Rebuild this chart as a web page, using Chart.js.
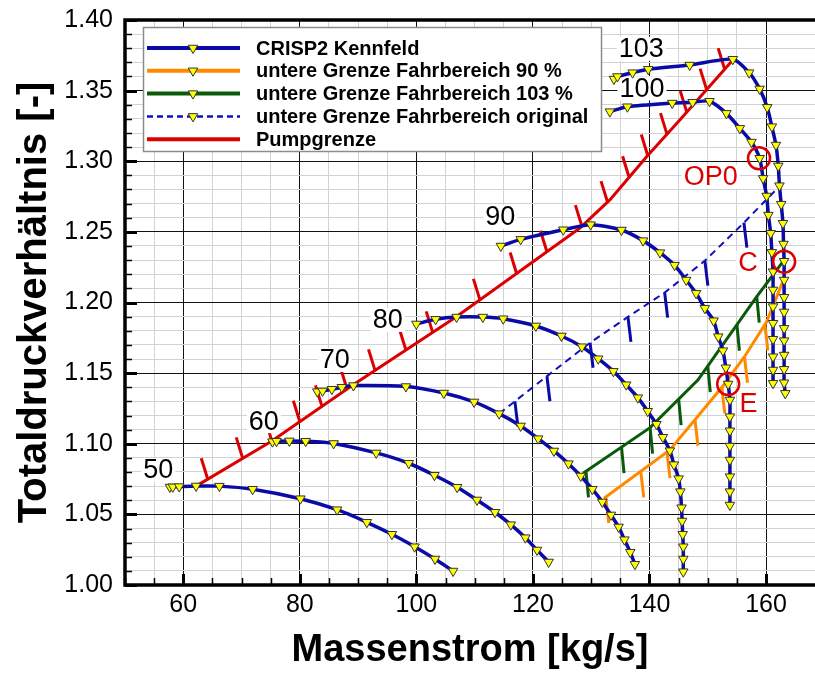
<!DOCTYPE html>
<html>
<head>
<meta charset="utf-8">
<title>Kennfeld</title>
<script src="https://cdn.jsdelivr.net/npm/chart.js@4/dist/chart.umd.min.js"></script>
<style>
	html, body { margin: 0; padding: 0; background: #fff; }
	canvas { display: block; }
</style>
</head>
<body>
<canvas id="map" width="815" height="673"></canvas>
<script>
// Speed lines of the compressor map: [mass flow, total pressure ratio]
const speed50 = [[57.7,1.0694],[58.2,1.0695],[59.3,1.0697],[62.2,1.0701],[66.2,1.0700],[71.9,1.0678],[80.1,1.0611],[86.4,1.0533],[91.5,1.0444],[95.8,1.0359],[99.7,1.0271],[103.2,1.0184],[106.3,1.0099]];
const speed60 = [[75.3,1.1015],[76.0,1.1018],[78.2,1.1020],[81.0,1.1018],[85.8,1.1002],[93.1,1.0935],[98.7,1.0862],[103.1,1.0777],[107.0,1.0692],[110.4,1.0602],[113.5,1.0515],[116.2,1.0427],[118.7,1.0335],[120.7,1.0248],[122.7,1.0163]];
const speed70 = [[83.0,1.1369],[83.9,1.1374],[85.5,1.1386],[87.2,1.1400],[89.2,1.1412],[98.2,1.1405],[104.7,1.1359],[109.9,1.1296],[114.2,1.1213],[117.9,1.1126],[120.9,1.1036],[123.6,1.0949],[126.1,1.0859],[128.2,1.0772],[130.2,1.0678],[131.9,1.0588],[133.4,1.0496],[134.7,1.0411],[135.7,1.0321],[136.7,1.0232],[137.5,1.0147]];
const speed80 = [[100.0,1.1848],[103.3,1.1881],[106.9,1.1897],[111.4,1.1897],[114.9,1.1885],[120.5,1.1834],[124.9,1.1763],[128.4,1.1687],[131.2,1.1602],[133.8,1.1513],[136.0,1.1418],[138.0,1.1326],[139.7,1.1230],[141.2,1.1138],[142.3,1.1046],[143.5,1.0951],[144.2,1.0852],[145.0,1.0753],[145.3,1.0661],[145.5,1.0547],[145.6,1.0453],[145.7,1.0359],[145.8,1.0271],[145.8,1.0184],[145.8,1.0094]];
const speed90 = [[114.5,1.2400],[117.9,1.2447],[125.2,1.2515],[129.9,1.2551],[135.2,1.2513],[138.9,1.2438],[141.8,1.2353],[144.3,1.2264],[146.3,1.2159],[148.0,1.2065],[149.5,1.1959],[151.0,1.1871],[151.8,1.1758],[152.6,1.1659],[153.1,1.1538],[153.5,1.1423],[153.8,1.1310],[153.8,1.1192],[153.8,1.1092],[153.8,1.0984],[153.8,1.0885],[153.8,1.0767],[153.8,1.0661],[153.8,1.0566]];
const speed100 = [[133.2,1.3351],[136.2,1.3386],[143.9,1.3412],[147.4,1.3418],[150.3,1.3425],[153.2,1.3339],[155.5,1.3233],[157.5,1.3136],[158.9,1.3021],[159.5,1.2879],[160.1,1.2754],[160.4,1.2619],[160.8,1.2490],[161.0,1.2355],[161.2,1.2218],[161.2,1.2089],[161.2,1.1971],[161.2,1.1853],[161.2,1.1740],[161.2,1.1616],[161.2,1.1522],[161.2,1.1428]];
const speed103 = [[133.9,1.3582],[134.5,1.3600],[137.1,1.3627],[139.8,1.3651],[146.9,1.3681],[154.3,1.3722],[157.1,1.3627],[158.9,1.3512],[160.2,1.3382],[161.0,1.3245],[161.7,1.3115],[162.1,1.2967],[162.3,1.2827],[162.6,1.2696],[162.9,1.2561],[163.0,1.2414],[163.1,1.2292],[163.1,1.2159],[163.1,1.2037],[163.1,1.1933],[163.1,1.1817],[163.1,1.1730],[163.1,1.1628],[163.1,1.1527],[163.1,1.1432],[163.3,1.1357]];

// Operating limits
const surgeLine = [[62.2,1.0700],[75.2,1.1019],[89.1,1.1416],[106.8,1.1897],[121.2,1.2324],[128.0,1.2525],[133.2,1.2726],[139.5,1.3032],[145.2,1.3292],[154.6,1.3731]];
const limit90 = [[132.2,1.0614],[143.5,1.0956],[152.6,1.1409],[156.3,1.1616],[160.1,1.1864],[163.1,1.2171]];
const limit103 = [[128.6,1.0791],[140.1,1.1114],[148.3,1.1451],[158.4,1.2041],[162.9,1.2289]];
const limitOriginal = [[114.2,1.1213],[122.3,1.1475],[129.8,1.1715],[136.3,1.1898],[142.6,1.2070],[149.5,1.2296],[156.1,1.2561],[162.4,1.2827]];

// Hatch positions (mass flow) along each limit line
const surgeHatch = [64.2,70.2,75.2,80.0,83.8,88.1,92.9,98.2,102.8,110.9,117.2,122.4,128.4,132.8,136.5,139.7,143.0,146.4,149.8,152.9];
const limit90Hatch = [132.5,138.5,143.0,147.8,152.4,156.3,159.8];
const limit103Hatch = [129.1,135.2,140.1,145.0,150.0,155.0,158.4];
const originalHatch = [116.9,122.4,129.8,136.3,142.6,149.5,156.2];

// Speed labels
const speedNames = ['50','60','70','80','90','100','103'];
const speedNameMass = [55.7,73.8,86.0,95.1,114.4,138.7,138.6];
const speedNameRatio = [1.0814,1.1160,1.1593,1.1876,1.2607,1.3516,1.3796];

// Marked operating points
const pointNames = ['OP0','C','E'];
const pointMass = [158.8,163.1,153.5];
const pointRatio = [1.3021,1.2289,1.1423];
const pointNameMass = [150.5,156.9,157.0];
const pointNameRatio = [1.2891,1.2280,1.1286];

const seriesNames = ['CRISP2 Kennfeld','untere Grenze Fahrbereich 90 %','untere Grenze Fahrbereich 103 %','untere Grenze Fahrbereich original','Pumpgrenze'];

const BLUE = '#0a0aa8', ORANGE = '#ff8a00', GREEN = '#0a5a0a', RED = '#dc0000', DASHBLUE = '#1010c0';
const FONT = '"Liberation Sans", Arial, Helvetica, sans-serif';

const toPts = arr => arr.map(([x, y]) => ({x, y}));
const isMajorY = v => Math.round(v * 100) % 5 === 0;
const isMajorX = v => Math.abs(v - Math.round(v)) < 1e-6 && Math.round(v) % 20 === 0;

function speedSet(arr){
	return {
		data: toPts(arr),
		showLine: true,
		borderColor: BLUE,
		borderWidth: 3.5,
		tension: 0.25,
		pointStyle: 'triangle',
		pointRotation: 180,
		pointRadius: 5.5,
		pointBackgroundColor: '#ffff00',
		pointBorderColor: '#333',
		pointBorderWidth: 1,
	};
}

function limitSet(arr, colour, width, hatchAt, dx, dy, dash){
	return {
		data: toPts(arr),
		showLine: true,
		borderColor: colour,
		borderWidth: width,
		borderDash: dash || [],
		tension: 0,
		pointRadius: 0,
		hatch: {at: hatchAt, dx: dx, dy: dy, colour: dash ? BLUE : colour},
	};
}

// Short tick marks on the limit lines, pointing to the forbidden side
const hatchPlugin = {
	id: 'hatches',
	beforeDatasetsDraw(chart){
		const ctx = chart.ctx;
		const xs = chart.scales.x;
		chart.data.datasets.forEach((ds, i) => {
			if (!ds.hatch) return;
			const pts = chart.getDatasetMeta(i).data;
			ctx.save();
			ctx.strokeStyle = ds.hatch.colour;
			ctx.lineWidth = 3;
			ds.hatch.at.forEach(v => {
				const px = xs.getPixelForValue(v);
				for (let k = 0; k < pts.length - 1; k++){
					const a = pts[k], b = pts[k + 1];
					if (px >= a.x && px <= b.x){
						const py = a.y + (b.y - a.y) * (px - a.x) / (b.x - a.x);
						ctx.beginPath();
						ctx.moveTo(px, py);
						ctx.lineTo(px + ds.hatch.dx, py + ds.hatch.dy);
						ctx.stroke();
						break;
					}
				}
			});
			ctx.restore();
		});
	}
};

// Text labels with a white box behind them
const tagPlugin = {
	id: 'tags',
	beforeDatasetsDraw(chart){
		const {ctx, scales: {x, y}} = chart;
		const tags = speedNames.map((t, i) => ({t, x: speedNameMass[i], y: speedNameRatio[i], c: '#000'}))
			.concat(pointNames.map((t, i) => ({t, x: pointNameMass[i], y: pointNameRatio[i], c: RED})));
		ctx.save();
		ctx.font = '27px ' + FONT;
		ctx.textAlign = 'center';
		ctx.textBaseline = 'middle';
		tags.forEach(tag => {
			const px = x.getPixelForValue(tag.x), py = y.getPixelForValue(tag.y);
			const w = ctx.measureText(tag.t).width;
			ctx.fillStyle = '#fff';
			ctx.fillRect(px - w / 2 - 2, py - 12, w + 4, 24);
			ctx.fillStyle = tag.c;
			ctx.fillText(tag.t, px, py + 1);
		});
		ctx.restore();
	}
};

const legendPlugin = {
	id: 'mapLegend',
	afterDatasetsDraw(chart){
		const ctx = chart.ctx;
		const styles = [
			{c: BLUE, dash: [], mark: true},
			{c: ORANGE, dash: [], mark: true},
			{c: GREEN, dash: [], mark: true},
			{c: DASHBLUE, dash: [6, 4], mark: true, w: 2.5},
			{c: RED, dash: [], mark: false},
		];
		ctx.save();
		ctx.fillStyle = '#fff';
		ctx.fillRect(143, 27, 459, 125);
		ctx.strokeStyle = '#8c8c8c';
		ctx.lineWidth = 1.5;
		ctx.strokeRect(143.5, 27.5, 458, 124);
		ctx.font = 'bold 20px ' + FONT;
		ctx.textBaseline = 'middle';
		seriesNames.forEach((name, i) => {
			const s = styles[i];
			const yy = 48 + i * 22.8;
			ctx.strokeStyle = s.c;
			ctx.lineWidth = s.w || 4;
			ctx.setLineDash(s.dash);
			ctx.beginPath();
			ctx.moveTo(147, yy);
			ctx.lineTo(240, yy);
			ctx.stroke();
			ctx.setLineDash([]);
			if (s.mark){
				ctx.fillStyle = '#ffff00';
				ctx.strokeStyle = '#333';
				ctx.lineWidth = 1;
				Chart.helpers.drawPoint(ctx, {pointStyle: 'triangle', rotation: 180, radius: 5.5, borderWidth: 1}, 193, yy);
			}
			ctx.fillStyle = '#000';
			ctx.fillText(name, 256, yy + 1);
		});
		ctx.restore();
	}
};

// Heavy frame with inward tick marks
const framePlugin = {
	id: 'frame',
	afterDraw(chart){
		const {ctx, chartArea: {left, right, top, bottom}, scales: {x, y}} = chart;
		ctx.save();
		ctx.strokeStyle = '#000';
		y.ticks.forEach(t => {
			const py = Math.round(y.getPixelForValue(t.value)) + 0.5;
			const major = isMajorY(t.value);
			ctx.lineWidth = major ? 3 : 1.5;
			ctx.beginPath();
			ctx.moveTo(left, py);
			ctx.lineTo(left + (major ? 12 : 7), py);
			ctx.stroke();
		});
		x.ticks.forEach(t => {
			if (t.value > 167) return;
			const px = Math.round(x.getPixelForValue(t.value)) + 0.5;
			const major = isMajorX(t.value);
			ctx.lineWidth = major ? 3 : 1.5;
			ctx.beginPath();
			ctx.moveTo(px, bottom);
			ctx.lineTo(px, bottom - (major ? 11 : 7));
			ctx.stroke();
		});
		ctx.lineWidth = 3.5;
		ctx.beginPath();
		ctx.moveTo(right + 2, top);
		ctx.lineTo(left, top);
		ctx.lineTo(left, bottom);
		ctx.lineTo(right + 2, bottom);
		ctx.stroke();
		ctx.restore();
	}
};

const gridColour = major => major ? '#111' : '#d2d2d2';

const chart = new Chart(document.getElementById('map'), {
	type: 'scatter',
	data: {
		datasets: [
			{
				data: pointNames.map((_, i) => ({x: pointMass[i], y: pointRatio[i]})),
				showLine: false,
				pointStyle: 'circle',
				pointRadius: 11,
				borderColor: RED,
				backgroundColor: 'rgba(0,0,0,0)',
				borderWidth: 2.5,
			},
			speedSet(speed50),
			speedSet(speed60),
			speedSet(speed70),
			speedSet(speed80),
			speedSet(speed90),
			speedSet(speed100),
			speedSet(speed103),
			limitSet(surgeLine, RED, 3, surgeHatch, -6.5, -21),
			limitSet(limit90, ORANGE, 3, limit90Hatch, 3, 26),
			limitSet(limit103, GREEN, 3, limit103Hatch, 2.5, 26),
			limitSet(limitOriginal, DASHBLUE, 2, originalHatch, 3, 25, [7, 5]),
		]
	},
	options: {
		responsive: false,
		animation: false,
		devicePixelRatio: 1,
		layout: {autoPadding: false, padding: {top: 20, right: 0, left: 0, bottom: 0}},
		plugins: {
			legend: {display: false},
			tooltip: {enabled: false},
		},
		scales: {
			x: {
				type: 'linear',
				min: 50,
				max: 168.4,
				afterFit: scale => {
					scale.height = 88;
					scale.paddingLeft = 0;
					scale.paddingRight = 0;
				},
				border: {display: false},
				grid: {
					drawTicks: false,
					lineWidth: 1,
					color: c => c.tick && c.tick.value > 167 ? 'rgba(0,0,0,0)' : gridColour(c.tick && isMajorX(c.tick.value)),
				},
				ticks: {
					stepSize: 5,
					autoSkip: false,
					maxRotation: 0,
					padding: 5,
					color: '#000',
					font: {size: 25, family: FONT},
					callback: v => isMajorX(v) ? String(Math.round(v)) : '',
				},
				title: {
					display: true,
					text: 'Massenstrom [kg/s]',
					color: '#000',
					font: {size: 38, weight: 'bold', family: FONT},
					padding: {top: 0, bottom: 0},
				},
			},
			y: {
				type: 'linear',
				min: 1.0,
				max: 1.4,
				afterFit: scale => {
					scale.width = 125;
					scale.paddingTop = 0;
					scale.paddingBottom = 0;
				},
				border: {display: false},
				grid: {
					drawTicks: false,
					lineWidth: 1,
					color: c => gridColour(c.tick && isMajorY(c.tick.value)),
				},
				ticks: {
					stepSize: 0.01,
					maxTicksLimit: 100,
					autoSkip: false,
					padding: 12,
					color: '#000',
					font: {size: 25, family: FONT},
					callback: v => isMajorY(v) ? v.toFixed(2) : '',
				},
				title: {
					display: true,
					text: 'Totaldruckverhältnis [-]',
					color: '#000',
					font: {size: 40, weight: 'bold', family: FONT},
					padding: {top: 11, bottom: 0},
				},
			},
		},
	},
	plugins: [hatchPlugin, tagPlugin, legendPlugin, framePlugin],
});
</script>
</body>
</html>
